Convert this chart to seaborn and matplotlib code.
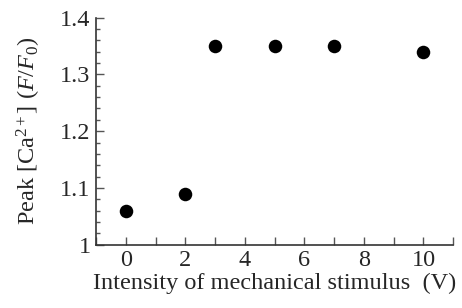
import matplotlib
matplotlib.use('Agg')
import matplotlib.pyplot as plt
import seaborn as sns
import pandas as pd
from matplotlib.ticker import MultipleLocator, FuncFormatter

# data
intensity = [0, 2, 3, 5, 7, 10]
peak_ratio = [1.06, 1.09, 1.35, 1.35, 1.35, 1.34]

sns.set_style('ticks')
plt.rcParams['font.family'] = ['Liberation Serif', 'DejaVu Serif']
plt.rcParams['mathtext.fontset'] = 'custom'
plt.rcParams['mathtext.rm'] = 'Liberation Serif'
plt.rcParams['mathtext.it'] = 'Liberation Serif:italic'

df = pd.DataFrame({'Intensity': intensity, 'Peak': peak_ratio})

fig = plt.figure(figsize=(4.62, 3.08), dpi=100)
ax = fig.add_axes([0.208, 0.205, 0.773, 0.738])
sns.scatterplot(data=df, x='Intensity', y='Peak', ax=ax, color='black',
                s=95, edgecolor='black', linewidth=0, legend=False)

ax.set_xlim(-1, 11)
ax.set_ylim(1, 1.4)
ax.xaxis.set_major_locator(MultipleLocator(2))
ax.xaxis.set_minor_locator(MultipleLocator(1))
ax.yaxis.set_major_locator(MultipleLocator(0.1))
ax.yaxis.set_minor_locator(MultipleLocator(0.02))
ax.yaxis.set_major_formatter(FuncFormatter(lambda v, p: f'{v:g}'))

fs = 17.5
ax.tick_params(which='both', direction='in', color='#555555', labelsize=fs,
               width=1, pad=4)
ax.tick_params(which='major', length=6)
ax.tick_params(which='minor', length=3)
ax.tick_params(axis='x', which='minor', length=6)

for s in ['left', 'bottom']:
    ax.spines[s].set_linewidth(1.2)
    ax.spines[s].set_color('#333333')
ax.spines['top'].set_visible(False)
ax.spines['right'].set_visible(False)

ax.set_xlabel('Intensity of mechanical stimulus  (V)', fontsize=fs,
              labelpad=1)
ax.set_ylabel(r'Peak [Ca$^{2+}$] ($F/F_0$)', fontsize=fs, labelpad=12)

fig.savefig('out.png', dpi=100)
plt.close(fig)
